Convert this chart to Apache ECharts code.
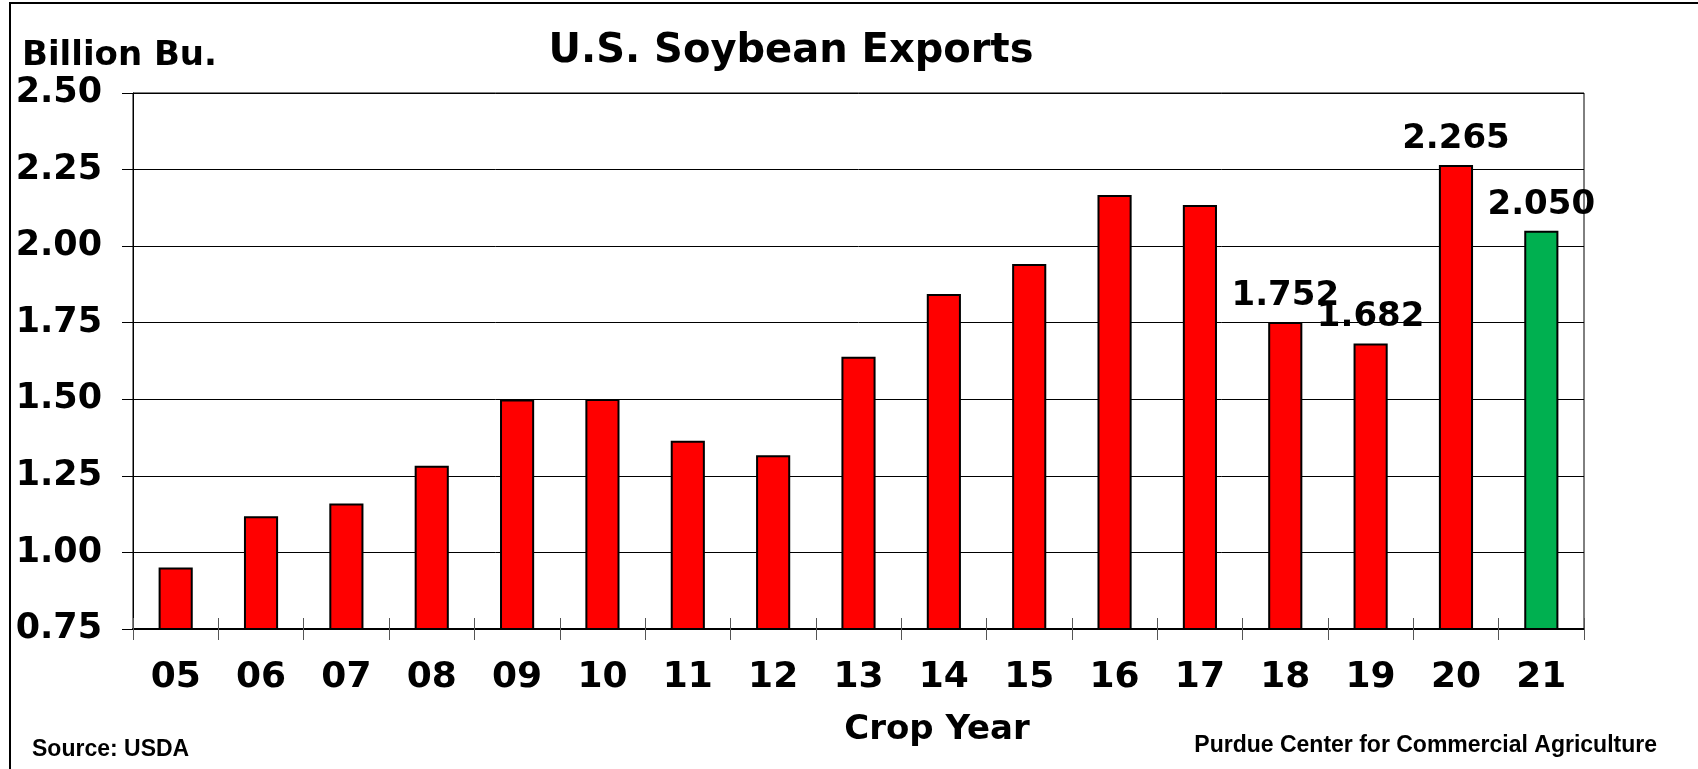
<!DOCTYPE html>
<html>
<head>
<meta charset="utf-8">
<script src="https://cdn.jsdelivr.net/npm/echarts@6/dist/echarts.min.js"></script>
<style>
html,body{margin:0;padding:0;background:#fff;}
#chart{width:1698px;height:769px;}
</style>
</head>
<body>
<div id="chart"></div>
<script>
const categories = ['05','06','07','08','09','10','11','12','13','14','15','16','17','18','19','20','21'];
const exportsBu = [0.951, 1.118, 1.160, 1.283, 1.499, 1.501, 1.365, 1.317, 1.639, 1.844, 1.942, 2.167, 2.134, 1.752, 1.682, 2.265, 2.050];
const labeledYears = ['18','19','20','21'];
const projectedYears = ['21'];
const yTicks = [0.75, 2.50, 0.25]; // min, max, interval

const FONT = 'DejaVu Sans';
const chart = echarts.init(document.getElementById('chart'));

const barData = exportsBu.map((v, i) => {
  const yr = categories[i];
  return {
    value: v,
    itemStyle: { color: projectedYears.includes(yr) ? '#00B050' : '#FF0000' },
    label: { show: labeledYears.includes(yr) }
  };
});

chart.setOption({
  animation: false,
  backgroundColor: '#fff',
  title: {
    text: 'U.S. Soybean Exports',
    left: 786, top: 47, textAlign: 'center', textVerticalAlign: 'middle',
    textStyle: { fontFamily: FONT, fontWeight: 'bold', fontSize: 40, color: '#000' }
  },
  grid: { left: 133, right: 114, top: 93, bottom: 140, show: true, borderColor: '#000', borderWidth: 1 },
  xAxis: [{
    type: 'category', data: categories, position: 'bottom',
    axisLine: { lineStyle: { color: '#000', width: 2 } },
    axisTick: { show: true, inside: true, length: 11, lineStyle: { color: '#555', width: 1 } },
    axisLabel: { margin: 31, fontFamily: FONT, fontWeight: 'bold', fontSize: 36, color: '#000' }
  }, {
    type: 'category', data: categories, position: 'top', offset: -536,
    axisLine: { show: false },
    axisTick: { show: true, inside: true, length: 11, lineStyle: { color: '#555', width: 1 } },
    axisLabel: { show: false }
  }],
  yAxis: {
    type: 'value', min: yTicks[0], max: yTicks[1], interval: yTicks[2],
    axisLine: { show: true, lineStyle: { color: '#000', width: 1 } },
    axisTick: { show: true, length: 11, lineStyle: { color: '#000' } },
    splitLine: { lineStyle: { color: '#000', width: 1 } },
    axisLabel: { margin: 31, fontFamily: FONT, fontWeight: 'bold', fontSize: 35, color: '#000',
      formatter: v => v.toFixed(2) }
  },
  series: [{
    type: 'bar', data: barData, barWidth: '40%', xAxisIndex: 0,
    itemStyle: { borderColor: '#000', borderWidth: 2 },
    label: { position: 'top', distance: 9, fontFamily: FONT, fontWeight: 'bold', fontSize: 34, color: '#000',
      formatter: p => p.value.toFixed(3) }
  }],
  graphic: [
    { type: 'rect', shape: { x: 10, y: 3, width: 1800, height: 900 }, style: { fill: 'none', stroke: '#000', lineWidth: 2 }, silent: true },
    { type: 'text', left: 22, top: 39, style: { text: 'Billion Bu.', font: 'bold 34px "DejaVu Sans"', fill: '#000' } },
    { type: 'text', x: 937, y: 730, style: { text: 'Crop Year', font: 'bold 34px "DejaVu Sans"', fill: '#000', textAlign: 'center', textVerticalAlign: 'middle' } },
    { type: 'text', x: 32, y: 750, style: { text: 'Source: USDA', font: 'bold 23px "Liberation Sans"', fill: '#000', textVerticalAlign: 'middle' } },
    { type: 'text', x: 1657, y: 746, style: { text: 'Purdue Center for Commercial Agriculture', font: 'bold 23px "Liberation Sans"', fill: '#000', textAlign: 'right', textVerticalAlign: 'middle' } }
  ]
});
</script>
</body>
</html>
